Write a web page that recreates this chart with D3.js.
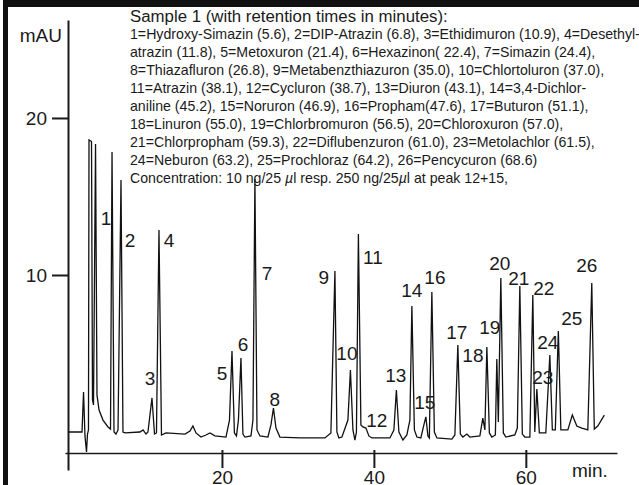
<!DOCTYPE html>
<html>
<head>
<meta charset="utf-8">
<script src="https://cdn.jsdelivr.net/npm/d3@7"></script>
<style>
    body { margin: 0; background: #fff; }
    svg text { font-family: "Liberation Sans", Arial, sans-serif; fill: #1a1a1a; }
    .axis path, .axis line { stroke: #1a1a1a; }
</style>
</head>
<body>
<script>

    // Chromatogram trace: time (min) and signal (mAU)
    let traceTime = [-0.26, 1.58, 1.78, 1.97, 2.17, 2.30, 2.43, 2.50, 2.83, 2.96, 3.09, 3.36, 3.55, 3.82, 4.34, 5.00, 5.33,
        5.53, 5.79, 6.05, 6.32, 6.71, 6.97, 7.24, 9.21, 9.61, 10.00, 10.26, 10.79, 11.12, 11.38, 11.71, 12.04, 12.63,
        15.13, 15.79, 16.18, 16.58, 17.24, 17.89, 18.42, 19.08, 20.53, 20.99, 21.32, 21.64, 21.91, 22.17, 22.50, 22.76,
        23.03, 23.82, 24.08, 24.34, 24.61, 25.00, 26.05, 26.45, 26.78, 27.11, 27.63, 30.26, 33.55, 34.34, 34.87, 35.13,
        35.39, 35.79, 36.58, 36.91, 37.24, 37.50, 37.70, 37.96, 38.29, 38.55, 38.95, 39.34, 39.74, 42.11, 42.63, 42.96,
        43.29, 43.82, 44.34, 44.74, 45.00, 45.33, 45.66, 46.18, 46.58, 46.84, 47.11, 47.30, 47.63, 47.96, 48.29, 50.26,
        50.66, 51.05, 51.38, 51.71, 52.24, 52.63, 53.95, 54.34, 54.61, 54.87, 55.20, 55.53, 55.99, 56.18, 56.38, 56.71,
        57.04, 57.37, 58.55, 58.88, 59.21, 59.54, 59.87, 60.53, 60.92, 61.18, 61.45, 61.78, 62.63, 63.16, 63.49, 63.88,
        64.28, 64.61, 65.53, 66.12, 66.71, 67.37, 68.16, 68.68, 69.01, 69.47, 70.33];
    let traceSignal = [0, 0, 2.55, -0.25, -1.27, -0.13, 0.13, 18.6, 18.5, 2.04, 1.72, 18.34, 2.36, 1.40, 0.76, 0.32, 0.19,
        17.83, 0, -0.13, 0.13, 16.05, 0, -0.06, 0, 0.13, -0.13, 0, 2.17, -0.13, -0.06, 12.87, -0.19, -0.06,
        -0.13, 0.06, 0.38, -0.06, -0.32, -0.19, -0.06, -0.25, -0.32, 0.76, 5.16, -0.06, -0.25, 0.76, 4.71, -0.13,
        -0.32, -0.25, 0.76, 16.11, 0.13, -0.25, -0.32, 0.45, 1.53, 0.25, -0.32, -0.38, -0.38, -0.06, 10.25, 0,
        -0.38, -0.32, 0.76, 3.95, 0.13, -0.51, 0, 12.61, 0.45, 0.32, 0.25, -0.25, -0.38, -0.38, 0.13, 2.68,
        0, -0.51, -0.19, 0.76, 8.03, 0.13, -0.32, -0.38, 0.45, 0.96, -0.25, -0.38, 8.92, 0, -0.38, -0.45,
        -0.19, 5.54, -0.13, -0.32, -0.13, -0.32, -0.25, 0.89, 0.13, 5.41, -0.06, -0.32, -0.19, 4.65, 0.64, 9.81,
        -0.06, -0.32, -0.19, 0.25, 9.30, -0.13, -0.32, -0.32, 8.73, 0, 2.74, -0.06, -0.06, 4.90, 0.13, 0.13,
        6.43, 0.13, 0.13, 1.08, 0.38, 0.25, 0.13, 9.49, 0.19, 0.38, 1.08];

    // Peak labels and where they sit (time, mAU)
    let peakLabels = ["1", "2", "3", "4", "5", "6", "7", "8", "9", "10", "11", "12", "13",
        "14", "15", "16", "17", "18", "19", "20", "21", "22", "23", "24", "25", "26"];
    let labelTime = [4.74, 7.89, 10.53, 13.03, 20.0, 22.76, 25.92, 26.97, 33.42, 36.45, 39.87, 40.39, 42.89,
        45.0, 46.71, 48.03, 50.92, 53.03, 55.26, 56.58, 59.08, 62.37, 62.24, 62.89, 66.05, 68.03];
    let labelSignal = [13.63, 12.23, 3.44, 12.23, 3.76, 5.61, 10.13, 2.10, 9.87, 5.03, 11.15, 0.76, 3.63,
        9.04, 1.91, 9.87, 6.37, 4.90, 6.69, 10.76, 9.81, 9.17, 3.50, 5.73, 7.26, 10.64];

    // Axis ticks
    let xTicks = [20, 40, 60];
    let yTicks = [10, 20];

    // Legend text
    let legendTitle = "Sample 1 (with retention times in minutes):";
    let legendLines = [
        "1=Hydroxy-Simazin (5.6), 2=DIP-Atrazin (6.8), 3=Ethidimuron (10.9), 4=Desethyl-",
        "atrazin (11.8), 5=Metoxuron (21.4), 6=Hexazinon( 22.4), 7=Simazin (24.4),",
        "8=Thiazafluron (26.8), 9=Metabenzthiazuron (35.0), 10=Chlortoluron (37.0),",
        "11=Atrazin (38.1), 12=Cycluron (38.7), 13=Diuron (43.1), 14=3,4-Dichlor-",
        "aniline (45.2), 15=Noruron (46.9), 16=Propham(47.6), 17=Buturon (51.1),",
        "18=Linuron (55.0), 19=Chlorbromuron (56.5), 20=Chloroxuron (57.0),",
        "21=Chlorpropham (59.3), 22=Diflubenzuron (61.0), 23=Metolachlor (61.5),",
        "24=Neburon (63.2), 25=Prochloraz (64.2), 26=Pencycuron (68.6)",
        "Concentration: 10 ng/25 \u00b5l resp. 250 ng/25\u00b5l at peak 12+15,"
    ];

    var width = 639;
    var height = 485;

    var svg = d3.select("body")
        .append("svg")
        .attr("width", width)
        .attr("height", height);

    var x = d3.scaleLinear().domain([-0.66, 72]).range([65, 617]);
    var y = d3.scaleLinear().domain([-2.42, 26.24]).range([470, 20]);

    // thick frame on top and left
    svg.append("rect").attr("x", 3).attr("y", 0).attr("width", width - 3).attr("height", 7).attr("fill", "#111");
    svg.append("rect").attr("x", 3).attr("y", 0).attr("width", 5).attr("height", height).attr("fill", "#111");

    // x axis
    var xAxis = svg.append("g")
        .attr("class", "axis")
        .attr("transform", "translate(0,453)")
        .call(d3.axisBottom(x).tickValues(xTicks).tickSize(15).tickSizeOuter(0).tickPadding(3));
    xAxis.select(".domain").attr("stroke-width", 1.6);
    xAxis.selectAll(".tick line").attr("y1", -3).attr("stroke-width", 2);
    xAxis.selectAll(".tick text").attr("font-size", 19).attr("fill", "#1a1a1a")
        .attr("font-family", "Liberation Sans, Arial, sans-serif");

    svg.append("text")
        .attr("x", 572)
        .attr("y", 477)
        .attr("font-size", 19)
        .text("min.");

    // y axis
    var yAxis = svg.append("g")
        .attr("class", "axis")
        .attr("transform", "translate(68,0)")
        .call(d3.axisLeft(y).tickValues(yTicks).tickSize(16).tickSizeOuter(0).tickPadding(5));
    yAxis.select(".domain").attr("stroke-width", 2);
    yAxis.selectAll(".tick line").attr("stroke-width", 2);
    yAxis.selectAll(".tick text").attr("font-size", 19).attr("fill", "#1a1a1a")
        .attr("font-family", "Liberation Sans, Arial, sans-serif");

    svg.append("text")
        .attr("x", 62)
        .attr("y", 42)
        .attr("font-size", 19)
        .style("text-anchor", "end")
        .text("mAU");

    // trace
    var points = traceTime.map(function (t, i) { return [t, traceSignal[i]]; });
    var line = d3.line()
        .x(function (d) { return x(d[0]); })
        .y(function (d) { return y(d[1]); });

    svg.append("path")
        .datum(points)
        .attr("d", line)
        .attr("fill", "none")
        .attr("stroke", "#111")
        .attr("stroke-width", 1.3)
        .attr("stroke-linejoin", "miter");

    // peak numbers
    svg.selectAll(".peak")
        .data(peakLabels)
        .enter()
        .append("text")
        .attr("class", "peak")
        .attr("x", function (d, i) { return x(labelTime[i]); })
        .attr("y", function (d, i) { return y(labelSignal[i]); })
        .attr("dy", ".36em")
        .attr("font-size", 19)
        .style("text-anchor", "middle")
        .text(function (d) { return d; });

    // legend block
    var legendX = 130;
    var title = svg.append("text")
        .attr("x", legendX)
        .attr("y", 22)
        .attr("font-size", 15)
        .text(legendTitle);
    // scale title to its width in the picture
    var tw = title.node().getComputedTextLength();
    title.attr("font-size", 15 * 318 / tw);

    var block = svg.append("g");
    var rows = block.selectAll("text")
        .data(legendLines)
        .enter()
        .append("text")
        .attr("x", legendX)
        .attr("y", function (d, i) { return 39 + i * 18; })
        .attr("font-size", 13);

    rows.each(function (d) {
        var parts = d.split("\u00b5");
        var el = d3.select(this);
        parts.forEach(function (p, k) {
            if (k > 0) el.append("tspan").style("font-style", "italic").text("\u00b5");
            el.append("tspan").text(p);
        });
    });

    // fit font size so the first line runs to the right edge, as in the picture
    var w0 = rows.nodes()[0].getComputedTextLength();
    rows.attr("font-size", 13 * 510 / w0);

</script>
</body>
</html>
